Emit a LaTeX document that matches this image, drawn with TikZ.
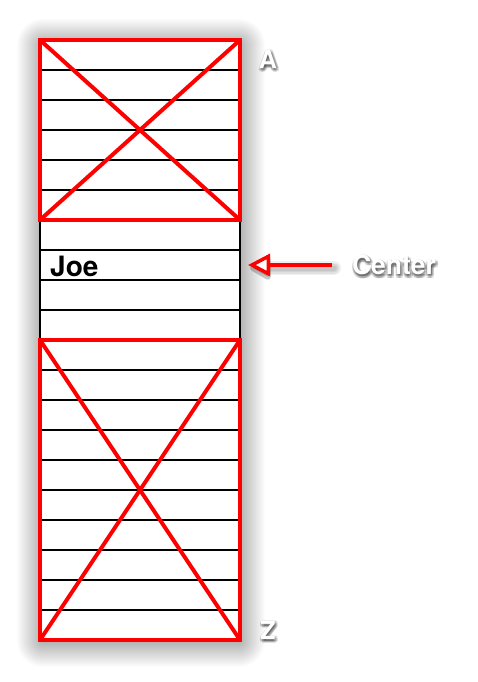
\documentclass[tikz,border=0pt]{standalone}
\usepackage{fontspec}
\setmainfont{TeX Gyre Heros}
\usetikzlibrary{arrows.meta,calc}
\begin{document}
\begin{tikzpicture}[x=1pt,y=-1pt,
  redbox/.style={draw=red, line width=4pt, line join=miter},
  redline/.style={draw=red, line width=4pt},
  rowline/.style={draw=black, line width=2pt},
  lbl/.style={text=white, font=\fontsize{25}{30}\selectfont\bfseries, inner sep=0pt},
  lblsh/.style={text=black, opacity=0.12, font=\fontsize{25}{30}\selectfont\bfseries, inner sep=0pt},
  tip/.style={-{Triangle[length=22pt, width=22pt, fill=white, line width=3.5pt]}},
]
\useasboundingbox (0,0) rectangle (477,682);
\fill[white] (0,0) rectangle (477,682);
% soft column shadow
\foreach \k in {-2,...,24}
  \fill[black, opacity=0.011, rounded corners=\k pt+2pt] (41-\k, 43-\k) rectangle (241+\k, 643+\k);
% column
\node[fill=white, minimum width=200pt, minimum height=600pt, anchor=north west, inner sep=0pt, outer sep=0pt] (col) at (40,40) {};
% row lines
\foreach \i in {1,...,19}
  \draw[rowline] ($(col.north west)+(0,30*\i)$) -- ($(col.north east)+(0,30*\i)$);
\draw[rowline] (col.north west) -- (col.south west);
\draw[rowline] (col.north east) -- (col.south east);
% red boxes
\node[redbox, minimum width=200pt, minimum height=180pt, anchor=north west, inner sep=0pt, outer sep=0pt] (topx) at (40,40) {};
\draw[redline] (topx.north west) -- (topx.south east);
\draw[redline] (topx.north east) -- (topx.south west);
\node[redbox, minimum width=200pt, minimum height=300pt, anchor=north west, inner sep=0pt, outer sep=0pt] (botx) at (40,340) {};
\draw[redline] (botx.north west) -- (botx.south east);
\draw[redline] (botx.north east) -- (botx.south west);
% Joe
\node[anchor=base west, inner sep=0pt, font=\fontsize{28}{32}\selectfont\bfseries] (joe) at (50,276) {Joe};
% arrow
\coordinate (arrs) at (332,265);
\coordinate (arrt) at (248,265);
\foreach \w in {14, 11, 8, 5}
  \draw[draw=black, opacity=0.06, line width=\w pt, line cap=round, line join=round,
    -{Triangle[length=24pt, width=26pt, line width=\w pt, round]}] ($(arrs)+(2,3)$) -- ($(arrt)+(2,3)$);
\draw[redline, tip] (arrs) -- (arrt);
% labels with soft shadow
\foreach \name/\pos/\txt/\fs in {A/{268,59}/A/25, Z/{268,630}/Z/25, C/{394,265}/Center/26.5}{
  \foreach \dx/\dy in {1/2, 3/2, -1/2, 1/4, 1/0, 2.5/3.5, -0.5/3.5, 2.5/0.5, -0.5/0.5}
    \node[lblsh, font=\fontsize{\fs}{30}\selectfont\bfseries] at ($(\pos)+(\dx,\dy)$) {\txt};
  \node[lbl, font=\fontsize{\fs}{30}\selectfont\bfseries] (\name) at (\pos) {\txt};
}
\end{tikzpicture}
\end{document}
